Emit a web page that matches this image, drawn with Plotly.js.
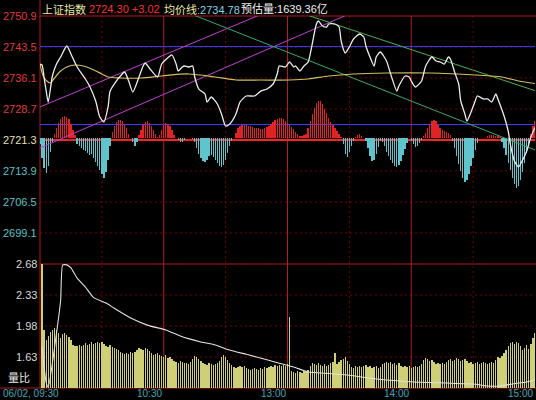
<!DOCTYPE html>
<html><head><meta charset="utf-8">
<script src="https://cdn.plot.ly/plotly-3.0.1.min.js"></script>
<style>html,body{margin:0;padding:0;background:#000;}#chart{width:536px;height:400px;}</style>
</head><body><div id="chart"></div>
<script>
// ---------- data (minutes after 09:30, trading minutes; 120 = 11:30/13:00, 240 = 15:00) ----------
const prevClose = 2721.3;
const priceTime = [0,1,2,3,4,6,8,10,13,15,18,22,24,27,29,31,33,34,37,39,41,43,45,48,50,51,53,57,59,63,64,66,67,69,70,72,74,75,77,80,81,83,86,88,90,92,95,97,100,104,107,110,113,115,116,119,121,123,124,126,128,130,132,134,135,137,139,140,143,145,146,148,150,152,155,157,158,160,162,163,165,168,170,173,174,177,179,180,182,185,187,190,192,194,196,198,199,201,203,204,206,207,209,211,212,215,217,219,221,222,225,227,228,230,232,233,236,238,240];
const price = [2739.44,2739.2,2736.1,2733.0,2730.37,2736.58,2739.44,2741.11,2743.74,2741.83,2738.73,2735.86,2734.19,2730.61,2726.79,2725.60,2729.18,2732.98,2735.38,2736.58,2737.53,2735.38,2732.76,2736.34,2738.96,2739.68,2738.49,2736.34,2739.44,2741.35,2741.59,2739.44,2737.77,2738.73,2738.96,2738.73,2738.96,2736.34,2733.47,2732.28,2730.37,2731.56,2729.89,2727.51,2724.64,2725.12,2727.51,2730.37,2731.80,2731.80,2732.98,2733.47,2734.67,2737.06,2738.96,2738.73,2739.92,2738.73,2738.96,2737.77,2738.96,2739.92,2744.22,2748.99,2749.71,2748.51,2748.27,2748.99,2748.99,2748.27,2744.93,2742.07,2743.50,2745.41,2746.60,2745.89,2743.74,2741.11,2738.96,2741.11,2742.31,2740.16,2737.06,2732.98,2734.19,2736.58,2736.34,2735.38,2733.95,2735.38,2738.96,2741.11,2740.16,2739.92,2739.44,2741.11,2740.64,2737.53,2734.67,2730.61,2727.51,2725.84,2727.98,2730.61,2731.80,2731.09,2731.09,2730.37,2732.28,2731.09,2727.03,2723.45,2720.35,2716.29,2714.85,2715.57,2718.67,2722.02,2724.30];
const avgTime = [0,2,5,7,10,13,17,21,25,30,33,39,49,59,72,85,95,107,121,130,140,152,168,189,211,224,232,240];
const avgPrice = [2739.44,2736.10,2734.91,2736.10,2737.77,2738.73,2739.20,2738.96,2738.25,2737.06,2736.34,2736.10,2736.10,2736.58,2737.06,2736.34,2735.62,2735.62,2735.62,2735.86,2736.58,2737.06,2737.29,2737.29,2736.82,2736.34,2735.38,2734.78];
// buying/selling strength bars, one per minute 0..240 (up = red, down = cyan)
const strength = [
 -6,-20,-30,-35,-28,-14,-4,4,10,15,
 19,21,22,21,19,14,8,3,-6,-8,
 -10,-12,-13,-15,-17,-16,-20,-24,-28,-32,
 -36,-40,-34,-22,-8,6,12,16,18,18,
 17,14,10,4,0,-4,-8,-4,3,8,
 13,16,17,15,12,8,4,1,3,8,
 13,15,14,12,8,3,0,-2,-4,-4,
 -2,0,0,0,-1,-4,-10,-16,-20,-23,
 -24,-22,-18,-17,-19,-22,-25,-28,-29,-27,
 -22,-15,-8,-3,0,5,10,12,13,13,
 13,12,12,11,10,10,10,9,9,10,
 11,12,14,16,18,19,20,20,19,17,
 15,13,11,9,6,4,2,2,3,4,
 10,17,24,30,35,37,37,34,29,25,
 20,16,13,10,7,4,1,-6,-16,-19,
 -14,-8,-3,1,3,4,2,0,-3,-10,
 -18,-23,-22,-16,-9,-3,-4,-8,-14,-18,
 -22,-25,-28,-29,-27,-23,-17,-11,-5,0,
 -3,-6,-9,-8,-5,-2,2,5,10,14,
 17,18,17,13,10,8,7,6,5,3,
 -3,-10,-18,-26,-33,-40,-44,-42,-36,-28,
 -20,-12,-5,0,0,0,0,2,3,3,
 3,2,2,1,-4,-10,-17,-25,-32,-40,
 -46,-50,-48,-42,-34,-25,-15,-6,4,12,
 17];
// per-minute volume, minutes 1..240
const volume = [
 130,58,48,52,56,58,60,58,55,50,
 54,55,53,51,48,43,42,42,43,42,
 43,45,43,44,46,44,45,46,45,46,
 44,42,41,43,41,40,39,38,36,35,
 34,35,34,36,35,36,38,40,39,38,
 40,39,37,35,33,34,35,33,32,31,
 33,30,31,29,27,26,25,27,26,25,
 25,24,26,29,32,31,29,27,25,24,
 23,25,24,23,24,25,27,31,33,31,
 28,25,23,21,20,21,22,21,22,20,
 19,18,19,20,19,18,20,19,21,20,
 21,22,21,23,22,23,22,23,22,24,
 71,17,16,15,17,16,15,17,16,18,
 22,25,24,23,25,23,22,24,22,23,
 25,26,35,24,26,28,29,31,27,24,
 21,20,22,21,22,21,22,23,21,22,
 20,21,22,20,21,24,25,26,25,26,
 24,25,23,25,22,21,22,21,22,20,
 21,22,21,22,24,28,30,29,27,28,
 26,24,25,24,25,24,26,28,29,27,
 28,30,29,27,28,29,27,25,26,24,
 25,26,24,25,26,25,24,25,26,25,
 28,31,30,32,35,38,42,45,46,44,
 46,45,42,38,40,43,39,44,50,55];
// volume ratio (量比)
const ratioTime = [1,3,4,8,10,11,13,15,18,22,26,32,36,44,52,61,68,78,85,91,100,110,116,123,130,136,149,159,168,181,197,210,217,223,229,236,240];
const ratio = [1.74,1.34,1.29,1.90,2.27,2.67,2.67,2.635,2.52,2.42,2.30,2.24,2.18,2.07,1.99,1.935,1.867,1.80,1.766,1.715,1.66,1.60,1.56,1.517,1.46,1.45,1.427,1.393,1.37,1.348,1.336,1.325,1.302,1.302,1.325,1.348,1.37];
// drawn trend lines (start/end in minute, price)
const magentaUpperT = [0,107.6], magentaUpperP = [2729.18,2751.38];
const magentaLowerT = [0,149.8], magentaLowerP = [2719.39,2751.38];
const greenUpperT = [128.0,240], greenUpperP = [2751.38,2733.07];
const greenLowerT = [73.2,240], greenLowerP = [2751.38,2718.91];
const blueLevels = [2743.6, 2725.0];
// axis ticks / labels
const priceTicks = [2750.9,2743.5,2736.1,2728.7,2721.3,2713.9,2706.5,2699.1];
const ratioTicks = [2.68,2.33,1.98,1.63];
const timeLabels = ['06/02, 09:30','10:30','13:00','14:00','15:00'];
const timeLabelMinutes = [0,60,120,180,240];
const solidTimeLines = [60,120,180];
const dottedTimeLines = [30,90,150,210];

// ---------- styling ----------
const F = 'Liberation Sans, Arial, Noto Sans CJK SC, sans-serif';
const RED_GRID = '#b01c1c', DOT_GRID = '#7a0000';
const PRICE_RANGE = [2691.7, 2750.9], RATIO_RANGE = [1.28, 2.68];
const PAN = 1/3;

const traces = [
  {type:'bar', x: strength.map((v,i)=>i), y: strength, xaxis:'x', yaxis:'y', width:0.65,
   marker:{color: strength.map(v => v >= 0 ? '#e02424' : '#5fc4cc'), line:{width:0}}},
  {type:'bar', x: volume.map((v,i)=>i+1), y: volume, xaxis:'x', yaxis:'y2', width:0.65,
   marker:{color:'#cfcf78', line:{width:0}}},
  {type:'scatter', mode:'lines', x: magentaUpperT, y: magentaUpperP, yaxis:'y3', line:{color:'#c040d0', width:1}},
  {type:'scatter', mode:'lines', x: magentaLowerT, y: magentaLowerP, yaxis:'y3', line:{color:'#c040d0', width:1}},
  {type:'scatter', mode:'lines', x: greenUpperT, y: greenUpperP, yaxis:'y3', line:{color:'#48b050', width:1}},
  {type:'scatter', mode:'lines', x: greenLowerT, y: greenLowerP, yaxis:'y3', line:{color:'#3aa870', width:1}},
  {type:'scatter', mode:'lines', x: avgTime, y: avgPrice, yaxis:'y3', line:{color:'#d0c060', width:1.2, shape:'spline', smoothing:0.8}},
  {type:'scatter', mode:'lines', x: priceTime, y: price, yaxis:'y3', line:{color:'#ececec', width:1.3, shape:'spline', smoothing:0.6}},
  {type:'scatter', mode:'lines', x: ratioTime, y: ratio, yaxis:'y4', line:{color:'#e0e0e0', width:1.1, shape:'spline', smoothing:0.5}}
];

const shapes = [];
function hline(yref, y, color, width, dash){ shapes.push({type:'line', layer:'below', xref:'paper', x0:0, x1:1, yref, y0:y, y1:y, line:{color, width, dash: dash||'solid'}}); }
function vline(x, color, width, dash, top){ shapes.push({type:'line', layer:'below', xref:'x', x0:x, x1:x, yref:'paper', y0:0, y1: top||1, line:{color, width, dash: dash||'solid'}}); }
priceTicks.slice(1).forEach(v => { if (v !== prevClose) hline('y3', v, DOT_GRID, 1, '2px,3px'); });
ratioTicks.slice(1).forEach(v => hline('y4', v, DOT_GRID, 1, '2px,3px'));
dottedTimeLines.forEach(m => vline(m, DOT_GRID, 1, '2px,3px'));
solidTimeLines.forEach(m => vline(m, RED_GRID, 1));
// borders
shapes.push({type:'line', layer:'below', xref:'paper', x0:0, x1:0, yref:'paper', y0:0, y1:1.045, line:{color:RED_GRID, width:1}});
shapes.push({type:'line', layer:'below', xref:'paper', x0:0, x1:1.01, yref:'paper', y0:1, y1:1, line:{color:RED_GRID, width:1}});
shapes.push({type:'line', layer:'below', xref:'paper', x0:0, x1:1.01, yref:'paper', y0:PAN, y1:PAN, line:{color:RED_GRID, width:1.2}});
shapes.push({type:'line', layer:'below', xref:'paper', x0:-0.09, x1:1.01, yref:'paper', y0:0, y1:0, line:{color:RED_GRID, width:1.2}});
blueLevels.forEach(v => hline('y3', v, '#3c3cff', 1));
hline('y3', prevClose, '#ff2020', 2);

const annotations = [];
function ann(o){ annotations.push(Object.assign({showarrow:false, borderpad:0}, o)); }
// title
const ty = 1 + 7/372;
ann({xref:'paper', yref:'paper', x:0.002, y:ty, xanchor:'left', yanchor:'middle', text:'上证指数', font:{family:F, size:11, color:'#e8e8a0'}});
ann({xref:'paper', yref:'paper', x:(88-40)/495, y:ty, xanchor:'left', yanchor:'middle', text:'2724.30 +3.02', font:{family:F, size:11, color:'#ff3030'}});
ann({xref:'paper', yref:'paper', x:(163-40)/495, y:ty, xanchor:'left', yanchor:'middle', text:'<span style="color:#e8e8a0">均价线</span><span style="color:#7fd4e4">:2734.78</span>', font:{family:F, size:11, color:'#e8e8a0'}});
ann({xref:'paper', yref:'paper', x:(240-40)/495, y:ty, xanchor:'left', yanchor:'middle', text:'预估量:1639.36亿', font:{family:F, size:11, color:'#f0f0f0'}});
// price labels
priceTicks.forEach(v => {
  const c = v > prevClose ? '#e03a3a' : (v === prevClose ? '#e0e0b0' : '#5cc0c8');
  ann({xref:'paper', yref:'y3', x:0, y:v, xanchor:'right', yanchor:'middle', xshift:-2, text: v.toFixed(1), font:{family:F, size:11, color:c}});
});
ratioTicks.forEach(v => ann({xref:'paper', yref:'y4', x:0, y:v, xanchor:'right', yanchor:'middle', xshift:-2, text: v.toFixed(2), font:{family:F, size:11, color:'#d8d8d8'}}));
ann({xref:'paper', yref:'y4', x:0, y:1.39, xanchor:'right', yanchor:'middle', xshift:-9, text:'量比', font:{family:F, size:11, color:'#e8e8e8'}});
// time labels
const tly = -5.5/372;
timeLabels.forEach((t,i) => {
  const m = timeLabelMinutes[i];
  if (i === 0) ann({xref:'paper', yref:'paper', x:(2-40)/495, y:tly, xanchor:'left', yanchor:'middle', text:t, font:{family:F, size:10, color:'#40a8b8'}});
  else ann({xref:'paper', yref:'paper', x:m/240, y:tly, xanchor:'right', yanchor:'middle', xshift:-1, text:t, font:{family:F, size:10, color:'#40a8b8'}});
});

const layout = {
  width:536, height:400, paper_bgcolor:'#000', plot_bgcolor:'#000',
  margin:{l:40, r:1, t:16, b:12, pad:0}, showlegend:false, barmode:'overlay', bargap:0,
  xaxis:{range:[0,240], visible:false, fixedrange:true},
  yaxis:{domain:[PAN,1], range:[-126,122], visible:false, fixedrange:true},
  yaxis2:{domain:[0,PAN], range:[0,124], visible:false, fixedrange:true},
  yaxis3:{overlaying:'y', range:PRICE_RANGE, visible:false, fixedrange:true},
  yaxis4:{overlaying:'y2', range:RATIO_RANGE, visible:false, fixedrange:true},
  shapes, annotations
};
Plotly.newPlot('chart', traces, layout, {staticPlot:true, displayModeBar:false});
</script></body></html>
